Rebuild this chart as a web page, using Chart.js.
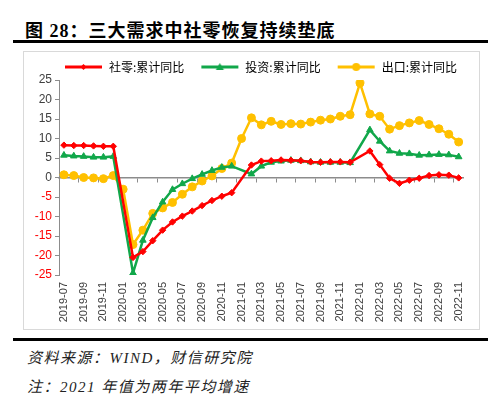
<!DOCTYPE html>
<html>
<head>
<meta charset="utf-8">
<script src="https://cdn.jsdelivr.net/npm/chart.js@4.4.1/dist/chart.umd.min.js"></script>
<style>
  body { margin: 0; width: 500px; height: 403px; background: #fff; position: relative; overflow: hidden; }
  .title { position: absolute; left: 25px; top: 16px; font: bold 18px "Liberation Serif", "Noto Sans CJK SC"; color: #000; letter-spacing: 1px; white-space: nowrap; }
  .rule { position: absolute; left: 13px; width: 475px; height: 3px; background: #000; }
  .box { position: absolute; left: 23px; top: 51px; width: 455px; height: 277px; border: 1px solid #d9d9d9; }
  .note { position: absolute; left: 27px; font: italic 15px "Liberation Serif", "Noto Sans CJK SC"; color: #222; letter-spacing: 1.5px; white-space: nowrap; }
</style>
</head>
<body>
<div class="title">图 28：三大需求中社零恢复持续垫底</div>
<div class="rule" style="top:40px"></div>
<div class="box"><canvas id="chart"></canvas></div>
<div class="rule" style="top:338px"></div>
<div class="note" style="top:346px">资料来源：WIND，财信研究院</div>
<div class="note" style="top:375px">注：2021 年值为两年平均增速</div>

<script>
// 月份标签
const mesi = [
  '2019-07','2019-08','2019-09','2019-10','2019-11','2019-12',
  '2020-01','2020-02','2020-03','2020-04','2020-05','2020-06',
  '2020-07','2020-08','2020-09','2020-10','2020-11','2020-12',
  '2021-01','2021-02','2021-03','2021-04','2021-05','2021-06',
  '2021-07','2021-08','2021-09','2021-10','2021-11','2021-12',
  '2022-01','2022-02','2022-03','2022-04','2022-05','2022-06',
  '2022-07','2022-08','2022-09','2022-10','2022-11'
];

// 社零:累计同比
const sheling = [
  8.3, 8.2, 8.2, 8.1, 8.0, 8.0,
  null, -20.5, -19.0, -16.2, -13.5, -11.4,
  -9.9, -8.6, -7.2, -5.9, -4.8, -3.9,
  null, 3.2, 4.2, 4.3, 4.5, 4.4,
  4.3, 4.0, 3.9, 4.0, 4.0, 3.9,
  null, 6.8, 3.3, -0.2, -1.5, -0.7,
  -0.2, 0.5, 0.7, 0.6, -0.1
];

// 投资:累计同比
const touzi = [
  5.7, 5.5, 5.4, 5.2, 5.2, 5.4,
  null, -24.5, -16.1, -10.3, -6.3, -3.1,
  -1.6, -0.3, 0.8, 1.8, 2.6, 2.9,
  null, 0.9, 2.9, 3.9, 4.2, 4.4,
  4.3, 4.0, 3.9, 3.9, 3.9, 3.8,
  null, 12.2, 9.3, 6.8, 6.2, 6.1,
  5.7, 5.8, 5.9, 5.8, 5.3
];

// 出口:累计同比
const chukou = [
  0.7, 0.5, 0.0, -0.1, -0.3, 0.5,
  -3.0, -17.2, -13.5, -9.2, -7.8, -6.4,
  -4.3, -2.4, -0.9, 0.4, 2.3, 3.7,
  10.0, 15.3, 13.5, 14.4, 13.6, 13.8,
  13.7, 14.2, 14.7, 15.0, 15.7, 16.1,
  24.2, 16.3, 15.7, 12.4, 13.3, 14.0,
  14.6, 13.6, 12.5, 11.1, 9.1
];

const yTicks = [-25, -20, -15, -10, -5, 0, 5, 10, 15, 20, 25];

const ROSSO = '#FF0000';
const VERDE = '#11A74A';
const GIALLO = '#FFC000';

// icona legenda: linea con marker al centro (spazio bianco a sinistra = distanza tra voci)
function iconaLegenda(colore, stile) {
  const c = document.createElement('canvas');
  c.width = 55; c.height = 12;
  const g = c.getContext('2d');
  g.strokeStyle = colore; g.fillStyle = colore; g.lineWidth = 3;
  g.beginPath(); g.moveTo(17, 6); g.lineTo(54, 6); g.stroke();
  const cx = 35.5, cy = 6;
  g.beginPath();
  if (stile === 'rectRot') {
    g.moveTo(cx, cy - 3); g.lineTo(cx + 3, cy); g.lineTo(cx, cy + 3); g.lineTo(cx - 3, cy);
  } else if (stile === 'triangle') {
    g.moveTo(cx, cy - 4); g.lineTo(cx + 4, cy + 3); g.lineTo(cx - 4, cy + 3);
  } else {
    g.arc(cx, cy, 4, 0, Math.PI * 2);
  }
  g.closePath(); g.fill();
  return c;
}

// sposta la legenda un po' (giù e a destra) senza toccare l'area del grafico
const spostaLegenda = {
  id: 'spostaLegenda',
  afterLayout(chart) {
    const l = chart.legend;
    if (!l) return;
    l.top += 3; l.bottom += 3;
    l.left += 6; l.right += 6;
  }
};

window.addEventListener('DOMContentLoaded', () => {
  const ctx = document.getElementById('chart').getContext('2d');
  const serie = [
    { label: '社零:累计同比', data: sheling, color: ROSSO, style: 'rectRot', r: 3.2 },
    { label: '投资:累计同比', data: touzi, color: VERDE, style: 'triangle', r: 3.8 },
    { label: '出口:累计同比', data: chukou, color: GIALLO, style: 'circle', r: 4 }
  ];

  window.grafico = new Chart(ctx, {
    type: 'line',
    data: {
      labels: mesi,
      datasets: serie.map(s => ({
        label: s.label,
        data: s.data,
        borderColor: s.color,
        backgroundColor: s.color,
        pointBackgroundColor: s.color,
        pointBorderColor: s.color,
        pointStyle: s.style,
        pointRadius: s.r,
        pointBorderWidth: 1,
        borderWidth: 2.5,
        tension: 0,
        spanGaps: true,
        fill: false
      }))
    },
    plugins: [spostaLegenda],
    options: {
      responsive: true,
      maintainAspectRatio: false,
      animation: false,
      layout: { padding: { left: 0, right: 10, top: 6, bottom: 0 } },
      plugins: {
        tooltip: { enabled: false },
        legend: {
          position: 'top',
          fullSize: true,
          labels: {
            usePointStyle: true,
            pointStyleWidth: 55,
            boxHeight: 12,
            padding: 0,
            color: '#595959',
            font: { family: '"Noto Sans CJK SC"', size: 12 },
            generateLabels: chart => serie.map((s, i) => ({
              text: s.label,
              pointStyle: iconaLegenda(s.color, s.style),
              fillStyle: s.color,
              strokeStyle: s.color,
              lineWidth: 0,
              hidden: false,
              datasetIndex: i
            }))
          }
        }
      },
      scales: {
        x: {
          offset: true,
          grid: { display: false, drawTicks: false },
          border: { display: false },
          ticks: {
            autoSkip: false,
            maxRotation: 90,
            minRotation: 90,
            padding: 7,
            color: '#404040',
            font: { family: '"Liberation Sans", Arial', size: 11 },
            callback: (v, i) => (i % 2 === 0 ? mesi[i] : '')
          },
          afterFit: scale => { scale.height = 54; }
        },
        xZero: {
          type: 'category',
          axis: 'x',
          position: { y: 0 },
          offset: true,
          grid: {
            drawOnChartArea: false,
            drawTicks: true,
            tickLength: 4,
            offset: true,
            tickColor: c => (c.index % 2 === 0 ? '#8c8c8c' : 'rgba(0,0,0,0)')
          },
          border: { color: '#8c8c8c', width: 1.5 },
          ticks: { display: false, autoSkip: false }
        },
        y: {
          min: -25,
          max: 25,
          afterBuildTicks: scale => { scale.ticks = yTicks.map(v => ({ value: v })); },
          grid: { drawOnChartArea: false, drawTicks: true, tickLength: 4, tickColor: '#8c8c8c' },
          border: { color: '#8c8c8c', width: 1 },
          ticks: {
            padding: 3,
            color: c => (c.tick && c.tick.value < 0 ? '#FF0000' : '#404040'),
            font: { family: '"Liberation Sans", Arial', size: 12 }
          },
          afterFit: scale => { scale.width = 35; }
        }
      }
    }
  });
});
</script>
</body>
</html>
